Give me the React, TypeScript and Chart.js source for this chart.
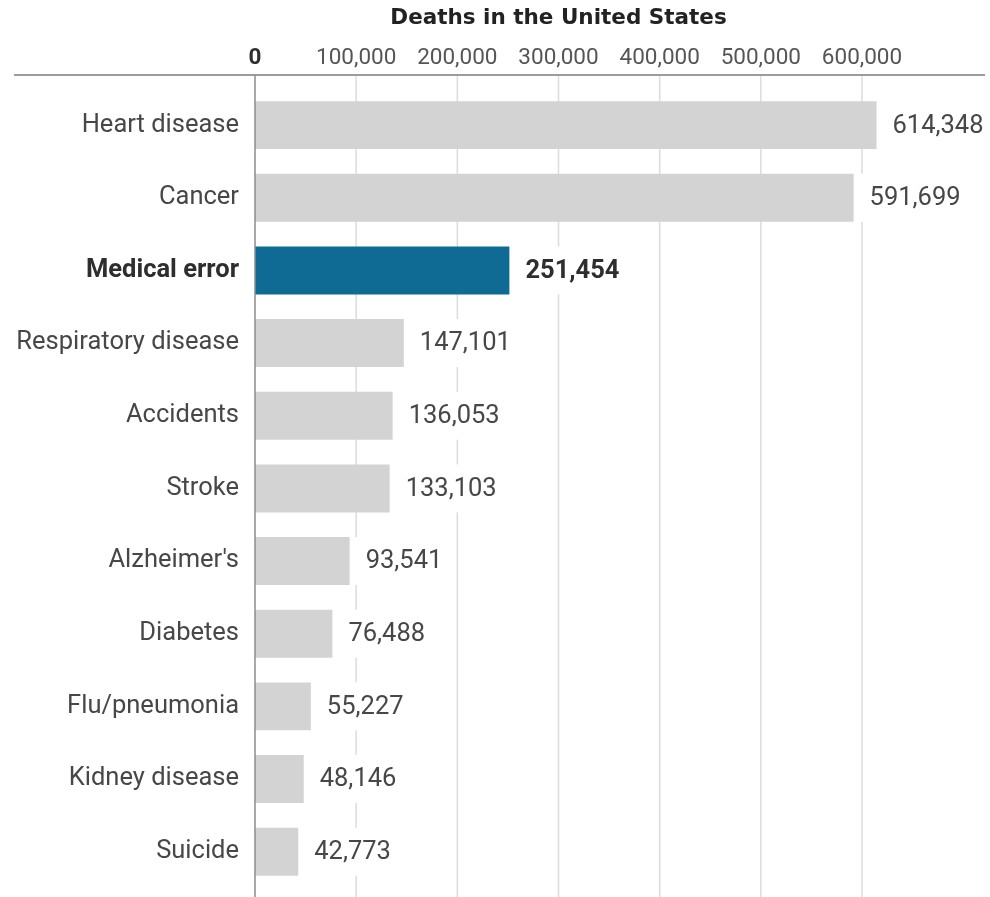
import React, { useEffect, useRef } from "react";
import { Chart, registerables } from "chart.js";

Chart.register(...registerables);

const titleText = "Deaths in the United States";
const categories = [
  "Heart disease",
  "Cancer",
  "Medical error",
  "Respiratory disease",
  "Accidents",
  "Stroke",
  "Alzheimer's",
  "Diabetes",
  "Flu/pneumonia",
  "Kidney disease",
  "Suicide",
];
const deaths = [614348, 591699, 251454, 147101, 136053, 133103, 93541, 76488, 55227, 48146, 42773];
const highlightIndex = 2;
const xMax = 600000;
const xStep = 100000;

const GREY = "#d3d3d3";
const BLUE = "#0f6a94";
const TEXT = "#474747";
const TEXT_BOLD = "#2e2e2e";
const AXIS_Y = 75;

const fmt = (v: number) => v.toLocaleString("en-US");

const gridPlugin = {
  id: "customGrid",
  beforeDatasetsDraw(chart: any) {
    const { ctx, scales } = chart;
    const x = scales.x;
    ctx.save();
    x.ticks.forEach((t: any) => {
      if (t.value === 0) return;
      const px = x.getPixelForValue(t.value);
      ctx.strokeStyle = "#dcdcdc";
      ctx.lineWidth = 1.5;
      ctx.beginPath();
      ctx.moveTo(px, AXIS_Y);
      ctx.lineTo(px, chart.height);
      ctx.stroke();
    });
    ctx.strokeStyle = "#9c9c9c";
    ctx.lineWidth = 2;
    ctx.beginPath();
    ctx.moveTo(14, AXIS_Y);
    ctx.lineTo(985, AXIS_Y);
    ctx.stroke();
    ctx.restore();
  },
  afterDatasetsDraw(chart: any) {
    const { ctx, scales } = chart;
    const x = scales.x;
    const meta = chart.getDatasetMeta(0);
    ctx.save();
    meta.data.forEach((bar: any, i: number) => {
      const bold = i === highlightIndex;
      ctx.font = `${bold ? "bold " : ""}25.5px Roboto`;
      const label = fmt(deaths[i]);
      const w = ctx.measureText(label).width;
      const lx = bar.x + 16;
      ctx.fillStyle = "#ffffff";
      ctx.fillRect(bar.x + 3, bar.y - 24, w + 22, 48);
      ctx.fillStyle = bold ? TEXT_BOLD : TEXT;
      ctx.textAlign = "left";
      ctx.textBaseline = "middle";
      ctx.fillText(label, lx, bar.y + 1);
    });
    const zx = x.getPixelForValue(0);
    ctx.strokeStyle = "#8c8c8c";
    ctx.lineWidth = 1.5;
    ctx.beginPath();
    ctx.moveTo(zx, AXIS_Y);
    ctx.lineTo(zx, chart.height);
    ctx.stroke();
    ctx.restore();
  },
};

export default function App() {
  const canvasRef = useRef<HTMLCanvasElement>(null);

  useEffect(() => {
    document.body.style.margin = "0";
    document.body.style.overflow = "hidden";
    const canvas = canvasRef.current;
    if (!canvas) return;
    const chart = new Chart(canvas, {
      type: "bar",
      data: {
        labels: categories,
        datasets: [
          {
            data: deaths,
            backgroundColor: deaths.map((_, i) => (i === highlightIndex ? BLUE : GREY)),
            borderWidth: 0,
            barPercentage: 0.66,
            categoryPercentage: 1,
            clip: false as any,
          },
        ],
      },
      options: {
        indexAxis: "y",
        animation: false,
        responsive: false,
        maintainAspectRatio: false,
        layout: { padding: { left: 0, right: 128, top: 0, bottom: 9 } },
        plugins: {
          legend: { display: false },
          tooltip: { enabled: false },
          title: {
            display: true,
            text: titleText,
            fullSize: false,
            color: "#222222",
            font: { family: "DejaVu Sans", size: 21.5, weight: "bold", lineHeight: 1.2 },
            padding: { top: 6, bottom: 0 },
          },
        },
        scales: {
          x: {
            position: "top",
            min: 0,
            max: xMax,
            grid: { display: false, drawTicks: false },
            border: { display: false },
            afterFit: (s: any) => {
              s.height = 57;
            },
            ticks: {
              stepSize: xStep,
              padding: 17,
              color: (ctx: any) => (ctx.index === 0 ? "#2e2e2e" : "#555555"),
              font: (ctx: any) => ({
                family: "Roboto",
                size: 22.5,
                weight: ctx.index === 0 ? "bold" : "normal",
              }),
              callback: (v: any) => fmt(Number(v)),
            },
          },
          y: {
            grid: { display: false, drawTicks: false },
            border: { display: false },
            afterFit: (s: any) => {
              s.width = 255;
              s.paddingTop = 0;
              s.paddingBottom = 0;
            },
            ticks: {
              padding: 16,
              color: (ctx: any) => (ctx.index === highlightIndex ? TEXT_BOLD : TEXT),
              font: (ctx: any) => ({
                family: "Roboto",
                size: 25.5,
                weight: ctx.index === highlightIndex ? "bold" : "normal",
              }),
            },
          },
        },
      },
      plugins: [gridPlugin],
    });
    return () => chart.destroy();
  }, []);

  return (
    <div style={{ width: 990, height: 897, background: "#ffffff" }}>
      <canvas ref={canvasRef} width={990} height={897} style={{ display: "block", width: 990, height: 897 }} />
    </div>
  );
}
